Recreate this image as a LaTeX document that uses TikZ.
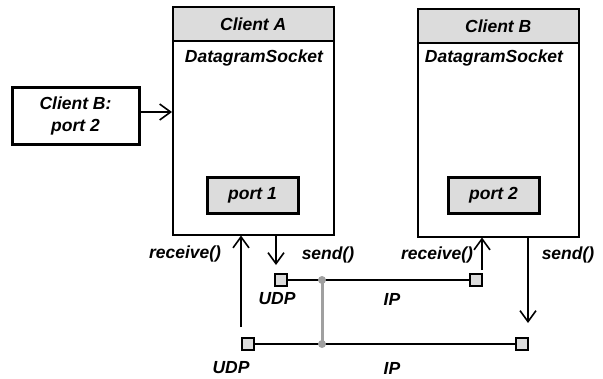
\documentclass[tikz,border=0pt]{standalone}
\usepackage{fontspec}
\setmainfont{Liberation Sans}
\usetikzlibrary{arrows.meta}
\definecolor{boxgray}{HTML}{DCDCDC}
\definecolor{linkgray}{HTML}{A0A0A0}
\tikzset{
  lbl/.style={font=\fontsize{17.5}{21}\selectfont\bfseries\itshape, inner sep=0pt},
  clientbox/.style={draw, line width=1.5pt, minimum width=161pt, minimum height=228pt, anchor=north west, inner sep=0pt},
  headbox/.style={draw, line width=1.5pt, fill=boxgray, minimum width=161pt, minimum height=34pt, anchor=north, inner sep=0pt, font=\fontsize{17.5}{21}\selectfont\bfseries\itshape},
  portbox/.style={draw, line width=3pt, fill=boxgray, minimum width=91pt, minimum height=36pt, inner sep=0pt, font=\fontsize{17.5}{21}\selectfont\bfseries\itshape},
  notebox/.style={draw, line width=3pt, minimum width=127pt, minimum height=57pt, inner sep=0pt, align=center, font=\fontsize{17.5}{22}\selectfont\bfseries\itshape},
  sq/.style={draw, line width=2.6pt, fill=boxgray, minimum size=12pt, inner sep=0pt},
  arr/.style={line width=1.6pt, -{Straight Barb[length=11pt, width=16pt, line width=1.6pt]}},
  wire/.style={line width=2pt},
  dot/.style={circle, fill=linkgray, minimum size=8pt, inner sep=0pt},
}
\begin{document}
\begin{tikzpicture}[x=1pt, y=-1pt]
\useasboundingbox (0,0) rectangle (603,378);
% Client A
\node[clientbox] (A) at (172,6) {};
\node[headbox] (Ah) at (A.north) {Client A};
\node[lbl] (Ads) at (254,58) {DatagramSocket};
\node[portbox] (p1) at (252.5,195) {port 1};
% Client B
\node[clientbox] (B) at (417,8) {};
\node[headbox] (Bh) at (B.north) {Client B};
\node[lbl] (Bds) at (494,58) {DatagramSocket};
\node[portbox] (p2) at (493.5,195) {port 2};
% note box
\node[notebox] (cbp) at (75.5,115.5) {Client B:\\port 2};
\draw[arr] ([yshift=3.5pt]cbp.east) -- ([yshift=3.5pt]cbp.east -| A.west);
% squares
\node[sq] (s1) at (281,280) {};
\node[sq] (s2) at (476,280) {};
\node[sq] (s3) at (248,344) {};
\node[sq] (s4) at (522,344) {};
\draw[wire] (s1) -- (s2);
\draw[wire] (s3) -- (s4);
% gray link
\node[dot] (d1) at (322,280) {};
\node[dot] (d2) at (322,344) {};
\draw[linkgray, line width=3pt] (d1.center) -- (d2.center);
% arrows
\coordinate (ra) at (241,327);
\draw[arr] (ra) -- (ra |- A.south);
\coordinate (sa) at (276,265);
\draw[arr] (sa |- A.south) -- (sa);
\coordinate (rb) at (482,270);
\draw[arr] (rb) -- (rb |- B.south);
\coordinate (sb) at (528,323);
\draw[arr] (sb |- B.south) -- (sb);
% labels
\node[lbl] (lra) at (185,254) {receive()};
\node[lbl] (lsa) at (328,255) {send()};
\node[lbl] (lrb) at (437,255) {receive()};
\node[lbl] (lsb) at (568,255) {send()};
\node[lbl] (u1) at (277,299) {UDP};
\node[lbl] (i1) at (392,299) {IP};
\node[lbl] (u2) at (231,368) {UDP};
\node[lbl] (i2) at (392,368) {IP};
\end{tikzpicture}
\end{document}
